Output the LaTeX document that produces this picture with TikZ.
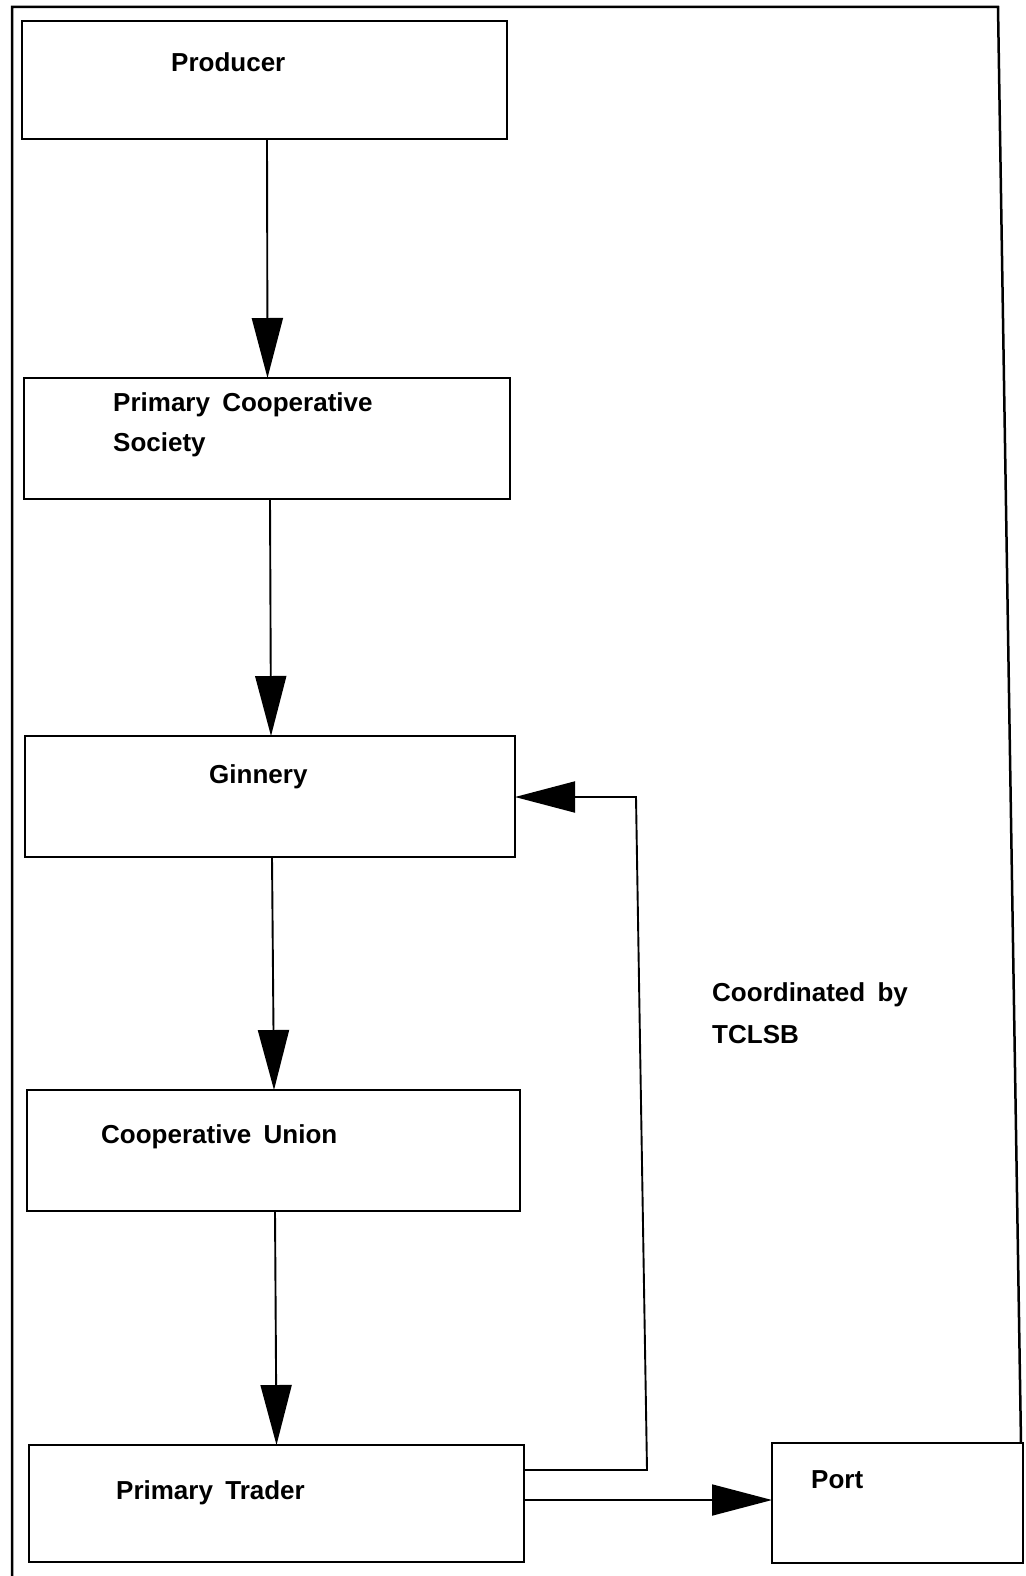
\documentclass[tikz,border=0pt]{standalone}
\usepackage{fontspec}
\setmainfont[WordSpace=1.7]{Liberation Sans}
\usetikzlibrary{arrows.meta,calc}
\begin{document}
\begin{tikzpicture}[x=1pt,y=-1pt,
  box/.style={draw,line width=1.9pt,inner sep=0pt,outer sep=0pt},
  lbl/.style={anchor=base west,inner sep=0pt,font=\fontsize{26}{31}\selectfont\bfseries},
  arr/.style={line width=1.9pt,-{Triangle[width=31pt,length=60pt]}},
  ln/.style={line width=2.5pt}]
\useasboundingbox (0,0) rectangle (1025,1576);
% outer frame
\draw[ln] (12,1576) -- (12,7) -- (998,7) -- (1021,1443);
% boxes
\node[box,minimum width=485pt,minimum height=118pt] (prod) at (264.5,80) {};
\node[box,minimum width=486pt,minimum height=121pt] (pcs) at (267,438.5) {};
\node[box,minimum width=490pt,minimum height=121pt] (gin) at (270,796.5) {};
\node[box,minimum width=493pt,minimum height=121pt] (cu) at (273.5,1150.5) {};
\node[box,minimum width=495pt,minimum height=117pt] (pt) at (276.5,1503.5) {};
\node[box,minimum width=251pt,minimum height=120pt] (port) at (897.5,1503) {};
% labels
\node[lbl] (tprod) at (171,72) {Producer};
\node[lbl] (tpcs1) at (113,411) {Primary Cooperative};
\node[lbl] (tpcs2) at (113,451) {Society};
\node[lbl] (tgin) at (209,783) {Ginnery};
\node[lbl] (tcu) at (101,1143) {Cooperative Union};
\node[lbl] (tco1) at (712,1001) {Coordinated by};
\node[lbl] (tco2) at (712,1043) {TCLSB};
\node[lbl] (tpt) at (116,1499) {Primary Trader};
\node[lbl] (tport) at (811,1488) {Port};
% connectors
\draw[arr] ($(prod.south)+(2.5,0)$) -- ($(pcs.north)+(0.5,0)$);
\draw[arr] ($(pcs.south)+(3,0)$) -- ($(gin.north)+(1,0)$);
\draw[arr] ($(gin.south)+(2,0)$) -- ($(cu.north)+(0.5,0)$);
\draw[arr] ($(cu.south)+(1.5,0)$) -- ($(pt.north)+(0,0)$);
\coordinate (c1) at (647,1470);
\coordinate (c2) at (636,797);
\draw[arr] (pt.east |- c1) -- (c1) -- (c2) -- (gin.east |- c2);
\draw[arr] ($(pt.east)+(0,-3.5)$) -- ($(port.west)+(0,-3)$);
\end{tikzpicture}
\end{document}
